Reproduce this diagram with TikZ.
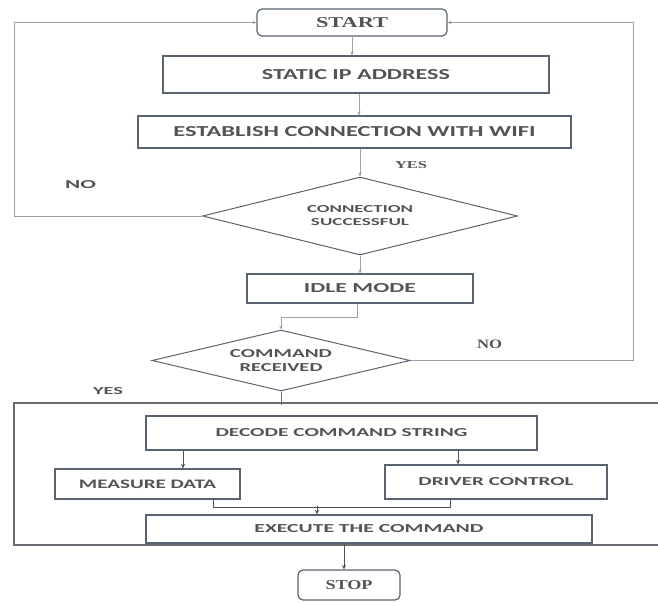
\documentclass[tikz,border=0pt]{standalone}
\usepackage{fontspec}
\usepackage{graphicx}
\setmainfont{Carlito}
\newfontfamily\serfont{Liberation Serif}
\usetikzlibrary{shapes.geometric,arrows.meta}
\definecolor{boxc}{HTML}{5A6470}
\definecolor{linec}{HTML}{9AA3AC}
\definecolor{txtc}{HTML}{545454}
\definecolor{darkl}{HTML}{505050}
\definecolor{framec}{HTML}{6A6E74}
\newcommand{\ftxt}[3]{\resizebox{#1pt}{#2pt}{\bfseries #3}}
\newcommand{\stxt}[3]{\resizebox{#1pt}{#2pt}{\serfont\bfseries #3}}
\begin{document}
\begin{tikzpicture}[x=1pt,y=-1pt,
  box/.style={draw=boxc, line width=1.2pt, fill=white, rectangle, inner sep=0pt, text=txtc},
  term/.style={box, rounded corners=5pt},
  dia/.style={draw=boxc, line width=1pt, fill=white, diamond, aspect=4, inner sep=0pt, text=txtc, align=center},
  lab/.style={inner sep=0pt, text=txtc},
  conn/.style={draw=linec, line width=0.9pt},
  arr/.style={conn, -{Stealth[length=4pt,width=3.5pt]}},
  dline/.style={draw=darkl, line width=1pt},
  darr/.style={dline, -{Stealth[length=4.5pt,width=4pt]}},
]
\useasboundingbox (0,0) rectangle (658,602);

% outer frame
\coordinate (frametop) at (14,403);
\draw[draw=framec, line width=1.4pt] (658,403) -- (frametop) -- (14,545) -- (658,545);

% nodes
\node[term, minimum width=190pt, minimum height=27pt] (start) at (352,22.5) {\stxt{72}{10}{START}};
\node[box, minimum width=386pt, minimum height=37pt] (static) at (356,74.5) {\ftxt{188}{10}{STATIC IP ADDRESS}};
\node[box, minimum width=433pt, minimum height=32pt] (estab) at (354.5,132) {\ftxt{362}{10}{ESTABLISH CONNECTION WITH WIFI}};
\node[dia, minimum width=315pt, minimum height=78pt] (d1) at (360,216) {\ftxt{106}{7}{CONNECTION}\\[1pt]\ftxt{98}{7}{SUCCESSFUL}};
\node[box, minimum width=226pt, minimum height=29pt] (idle) at (360,288.5) {\ftxt{112}{9}{IDLE MODE}};
\node[dia, minimum width=258pt, minimum height=61pt] (d2) at (281,360.5) {\ftxt{102}{8}{COMMAND}\\[2pt]\ftxt{83}{8}{RECEIVED}};
\node[box, minimum width=391pt, minimum height=34pt] (decode) at (341.5,433) {\ftxt{252}{8}{DECODE COMMAND STRING}};
\node[box, minimum width=185pt, minimum height=30pt] (measure) at (147.5,484) {\ftxt{137}{8.5}{MEASURE DATA}};
\node[box, minimum width=222pt, minimum height=34pt] (driver) at (496,482) {\ftxt{155}{8}{DRIVER CONTROL}};
\node[box, minimum width=446pt, minimum height=28pt] (execute) at (369,529) {\ftxt{229}{8}{EXECUTE THE COMMAND}};
\node[term, minimum width=102pt, minimum height=30pt] (stop) at (349,585) {\stxt{47}{9}{STOP}};

% labels
\node[lab] (yes1) at (411,165) {\stxt{32}{7}{YES}};
\node[lab] (no1) at (80.5,185) {\ftxt{31}{8}{NO}};
\node[lab] (no2) at (489.5,344.5) {\stxt{25}{8.5}{NO}};
\node[lab] (yes2) at (108,391.5) {\ftxt{30}{7}{YES}};

% connectors
\coordinate (lt) at (14,22.5);
\coordinate (rt) at (633,22.5);
\draw[arr] (start.south) -- (start.south |- static.north);
\draw[arr] ([xshift=3pt]static.south) -- ([xshift=3pt]static.south |- estab.north);
\draw[arr] ([xshift=5.5pt]estab.south) -- (d1.north);
\draw[arr] (d1.south) -- (idle.north);
\draw[arr] (d1.west) -| (lt) -- (start.west);
\draw[arr] ([xshift=-3pt]idle.south) -- ++(0,14) -| (d2.north);
\draw[arr] (d2.east) -| (rt) -- (start.east);
\draw[conn, draw=framec] (d2.south) -- ([yshift=-2pt]d2.south |- frametop);

\coordinate (mx) at ([xshift=35.5pt]measure.north);
\coordinate (dx) at ([xshift=-38pt]driver.north);
\draw[darr] (decode.south -| mx) -- (mx);
\draw[darr] (decode.south -| dx) -- (dx);
\coordinate (mb) at ([xshift=65.5pt]measure.south);
\coordinate (db) at ([xshift=-46pt]driver.south);
\draw[dline] (mb) -- ++(0,8) -| (db);
\coordinate (ex) at ([xshift=-52pt]execute.north);
\draw[darr] ([yshift=8pt]ex) -- (ex);
\coordinate (sx) at ([xshift=-5pt]stop.north);
\draw[darr] (execute.south -| sx) -- (sx);
\end{tikzpicture}
\end{document}
